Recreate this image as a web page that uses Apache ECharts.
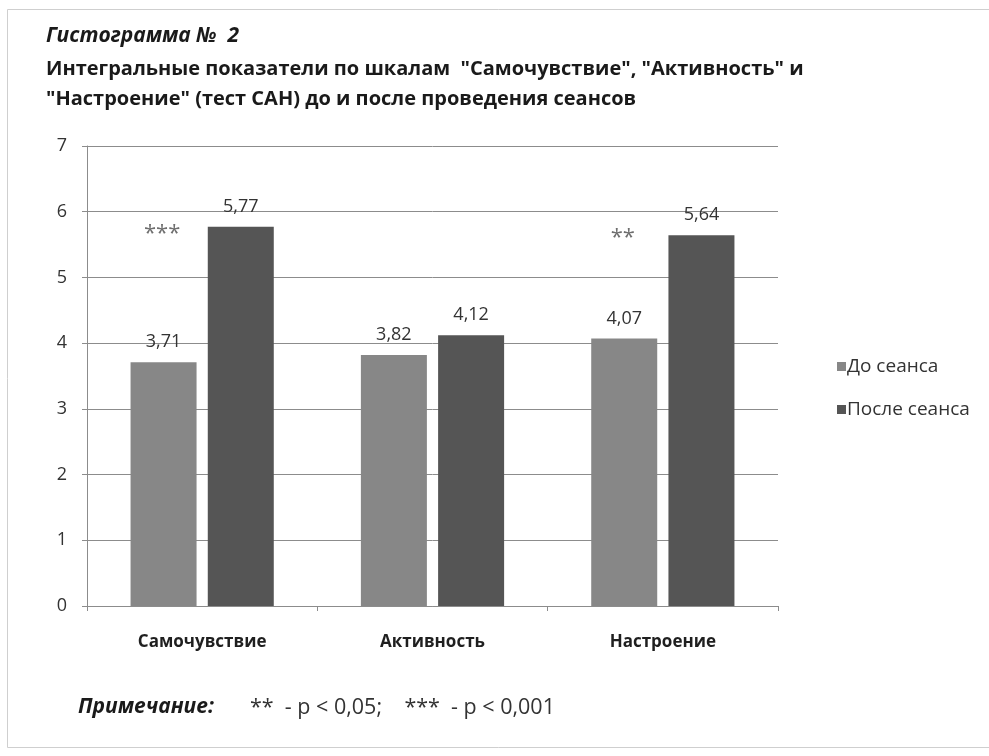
<!DOCTYPE html>
<html>
<head>
<meta charset="utf-8">
<script src="https://cdn.jsdelivr.net/npm/echarts@6/dist/echarts.min.js"></script>
<style>
html,body{margin:0;padding:0;background:#fff;}
#chart{width:989px;height:756px;}
</style>
</head>
<body>
<div id="chart"></div>
<script>
var categories = ['Самочувствие', 'Активность', 'Настроение'];
var beforeValues = [3.71, 3.82, 4.07];
var afterValues = [5.77, 4.12, 5.64];
var seriesNames = ['До сеанса', 'После сеанса'];
var yTicks = [0, 1, 2, 3, 4, 5, 6, 7];
var starMarks = ['***', '', '**'];
var starLevels = [5.75, null, 5.69];
var titleLine1 = 'Гистограмма №  2';
var titleLine2 = 'Интегральные показатели по шкалам  "Самочувствие", "Активность" и';
var titleLine3 = '"Настроение" (тест САН) до и после проведения сеансов';
var noteLabel = 'Примечание:';
var noteText = '**  - p < 0,05;    ***  - p < 0,001';

var chart = echarts.init(document.getElementById('chart'));
var FONT = '"Open Sans", "Noto Sans", sans-serif';
function fmt(v){ return String(v.toFixed(2)).replace('.', ','); }

var starData = categories.map(function(c, i){
  return starLevels[i] == null ? null : { value: [c, starLevels[i]], mark: starMarks[i] };
}).filter(function(d){ return d; });

chart.setOption({
  backgroundColor: '#ffffff',
  animation: false,
  textStyle: { fontFamily: FONT },
  graphic: [
    { type: 'rect', shape: { x: 7.5, y: 9.5, width: 1000, height: 738 }, style: { fill: 'none', stroke: '#cfcfcf', lineWidth: 1 } },
    { type: 'text', left: 46, top: 26, style: { text: titleLine1, font: 'italic bold 21px ' + FONT, fill: '#1a1a1a' } },
    { type: 'text', left: 46, top: 59, style: { text: titleLine2, font: 'bold 20px ' + FONT, fill: '#1a1a1a' } },
    { type: 'text', left: 46, top: 89, style: { text: titleLine3, font: 'bold 20px ' + FONT, fill: '#1a1a1a' } },
    { type: 'text', left: 78, top: 697, style: { text: noteLabel, font: 'italic bold 21px ' + FONT, fill: '#1a1a1a' } },
    { type: 'text', left: 250, top: 697, style: { text: noteText, font: '21.5px ' + FONT, fill: '#333' } }
  ],
  legend: {
    orient: 'vertical',
    left: 832,
    top: 352,
    itemWidth: 9,
    itemHeight: 9,
    itemGap: 24,
    icon: 'rect',
    data: seriesNames,
    textStyle: { fontSize: 19, color: '#333', fontFamily: FONT, padding: [0, 0, 0, -4] }
  },
  grid: { left: 87, right: 211, top: 146, bottom: 150, containLabel: false },
  xAxis: {
    type: 'category',
    data: categories,
    axisLine: { show: true, lineStyle: { color: '#8c8c8c', width: 1 } },
    axisTick: { show: true, length: 5, lineStyle: { color: '#8c8c8c' } },
    axisLabel: { margin: 28, fontSize: 17, fontWeight: 'bold', color: '#1f1f1f', fontFamily: FONT },
    splitLine: { show: false }
  },
  yAxis: {
    type: 'value',
    min: 0, max: 7, interval: 1,
    axisLine: { show: true, lineStyle: { color: '#8c8c8c', width: 1 } },
    axisTick: { show: true, length: 5, lineStyle: { color: '#8c8c8c' } },
    axisLabel: { margin: 20, fontSize: 18, color: '#333', fontFamily: FONT },
    splitLine: { show: true, lineStyle: { color: '#8c8c8c', width: 1 } }
  },
  series: [
    {
      name: seriesNames[0], type: 'bar', data: beforeValues,
      barWidth: 66, barGap: '17%',
      itemStyle: { color: '#878787' },
      label: { show: true, position: 'top', distance: 11, fontSize: 18, color: '#333', fontFamily: FONT, formatter: function(p){ return fmt(p.value); } }
    },
    {
      name: seriesNames[1], type: 'bar', data: afterValues,
      barWidth: 66, barGap: '17%',
      itemStyle: { color: '#555555' },
      label: { show: true, position: 'top', distance: 11, fontSize: 18, color: '#333', fontFamily: FONT, formatter: function(p){ return fmt(p.value); } }
    },
    {
      name: 'stars', type: 'scatter', data: starData, symbolSize: 0, silent: true,
      label: { show: true, position: 'inside', fontSize: 22, color: '#4a4a4a', fontFamily: FONT,
        offset: [-40, 6],
        formatter: function(p){ return p.data.mark; } }
    }
  ]
});
</script>
</body>
</html>
